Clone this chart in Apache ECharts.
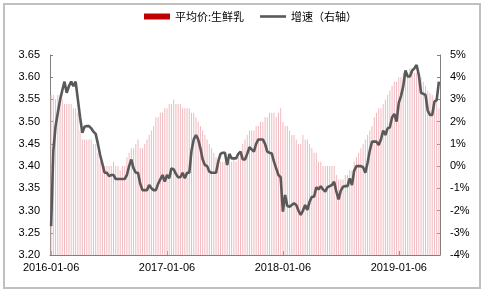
<!DOCTYPE html>
<html>
<head>
<meta charset="utf-8">
<script src="https://cdn.jsdelivr.net/npm/echarts@6/dist/echarts.min.js"></script>
<style>
html,body{margin:0;padding:0;background:#fff;}
#main{width:484px;height:294px;}
</style>
</head>
<body>
<div id="main"></div>
<script>
// Weekly categories starting 2016-01-06 (175 weeks)
var startDate = '2016-01-06';
var weekCount = 175;
var tickIndex = [0, 52, 104, 156];
var tickLabels = ['2016-01-06', '2017-01-06', '2018-01-06', '2019-01-06'];

// 平均价:生鲜乳 (元/公斤, left axis)
var priceValues = [
  3.56,3.56,3.55,3.56,3.56,3.55,3.54,3.54,3.54,3.54,
  3.53,3.53,3.52,3.48,3.46,3.46,3.46,3.46,3.46,3.45,
  3.45,3.43,3.41,3.40,3.40,3.40,3.40,3.40,3.41,3.40,
  3.40,3.39,3.40,3.40,3.42,3.43,3.44,3.44,3.45,3.46,
  3.44,3.44,3.45,3.46,3.47,3.48,3.49,3.51,3.51,3.52,
  3.52,3.53,3.53,3.54,3.54,3.55,3.54,3.54,3.54,3.53,
  3.53,3.53,3.53,3.52,3.52,3.51,3.50,3.49,3.48,3.47,
  3.46,3.45,3.44,3.43,3.42,3.42,3.41,3.41,3.41,3.41,
  3.41,3.41,3.42,3.41,3.42,3.43,3.45,3.46,3.47,3.48,
  3.48,3.48,3.49,3.49,3.50,3.50,3.51,3.51,3.52,3.52,
  3.52,3.51,3.52,3.53,3.50,3.49,3.49,3.48,3.47,3.47,
  3.46,3.45,3.45,3.47,3.46,3.46,3.45,3.44,3.43,3.43,
  3.41,3.41,3.40,3.40,3.40,3.40,3.40,3.40,3.38,3.37,
  3.37,3.37,3.38,3.38,3.39,3.39,3.41,3.42,3.43,3.44,
  3.45,3.46,3.47,3.48,3.49,3.51,3.52,3.53,3.53,3.54,
  3.55,3.56,3.57,3.58,3.59,3.59,3.60,3.60,3.61,3.61,
  3.61,3.62,3.62,3.61,3.61,3.61,3.60,3.59,3.58,3.57,
  3.565,3.56,3.55,3.55,3.53
];

// 增速 (%, right axis)
var growthValues = [
  -2.7,0.7,1.8,2.4,2.97,3.4,3.8,3.3,3.6,3.8,
  3.6,3.8,3.0,2.2,1.5,1.77,1.8,1.8,1.7,1.55,
  1.45,1.0,0.5,0.1,-0.3,-0.3,-0.45,-0.4,-0.4,-0.58,
  -0.58,-0.58,-0.58,-0.58,-0.4,0.0,0.3,-0.1,-0.3,-0.3,
  -0.8,-1.08,-1.08,-1.08,-0.85,-1.0,-1.08,-1.08,-0.8,-0.6,
  -0.4,-0.7,-0.4,-0.55,-0.1,-0.15,-0.35,-0.5,-0.5,-0.3,
  -0.55,-0.3,-0.3,0.7,1.2,1.4,1.2,0.8,0.3,0.05,
  0.0,-0.25,-0.3,-0.3,-0.3,0.2,0.55,0.6,0.6,0.05,
  0.55,0.35,0.35,0.35,0.55,0.65,0.3,0.3,0.55,0.85,
  0.75,0.65,1.0,1.2,1.2,1.2,1.0,0.65,0.6,0.57,
  0.2,-0.1,-0.4,-0.5,-2.05,-1.3,-1.8,-1.83,-1.75,-1.67,
  -1.75,-2.0,-2.2,-2.0,-1.75,-1.97,-1.6,-1.38,-1.38,-0.95,
  -1.05,-0.9,-1.05,-1.15,-0.95,-0.9,-0.85,-0.7,-1.15,-1.5,
  -1.1,-0.93,-0.9,-0.9,-0.55,-0.85,-0.2,0.0,0.0,0.0,
  -0.05,-0.3,0.15,0.7,1.1,1.1,1.1,0.95,1.2,1.6,
  1.4,1.7,1.75,2.2,2.35,2.0,2.85,3.15,3.6,4.3,
  4.03,4.03,4.3,4.4,4.55,4.1,3.3,3.25,3.2,2.5,
  2.3,2.3,2.9,2.97,3.8
];

var categories = [];
(function(){
  var d = new Date(startDate + 'T00:00:00Z');
  for (var i = 0; i < weekCount; i++) {
    var t = new Date(d.getTime() + i * 7 * 86400000);
    categories.push(t.toISOString().slice(0, 10));
  }
})();

var labelMap = {};
tickIndex.forEach(function(k, j){ labelMap[k] = tickLabels[j]; });

var chart = echarts.init(document.getElementById('main'), null, {renderer: 'canvas'});
var numFont = 'Liberation Sans, Arial, sans-serif';
chart.setOption({
  animation: false,
  backgroundColor: '#fff',
  graphic: [{
    type: 'rect',
    shape: {x: 4, y: 4, width: 476, height: 284},
    style: {fill: 'none', stroke: '#c0c0c0', lineWidth: 2},
    silent: true
  }],
  legend: {
    top: 6,
    left: 139,
    itemWidth: 26,
    itemHeight: 6,
    itemGap: 16,
    textStyle: {fontFamily: 'Noto Sans CJK SC', fontSize: 11, color: '#000'},
    data: [
      {name: '平均价:生鲜乳', icon: 'rect', itemStyle: {color: '#c00000'}},
      {name: '增速（右轴）', icon: 'path://M0,0L26,0L26,2.6L0,2.6Z', itemStyle: {color: '#595959'}}
    ]
  },
  grid: {left: 50, right: 44, top: 55, bottom: 39},
  xAxis: {
    type: 'category',
    data: categories,
    boundaryGap: true,
    axisLine: {onZero: false, lineStyle: {color: '#808080', width: 1}},
    axisTick: {
      show: true, inside: true, length: 4, alignWithLabel: true,
      interval: function(i){ return labelMap[i] !== undefined; },
      lineStyle: {color: '#808080'}
    },
    axisLabel: {
      interval: function(i){ return labelMap[i] !== undefined; },
      formatter: function(v, i){ return labelMap[i] || ''; },
      fontFamily: numFont, fontSize: 11, color: '#000', margin: 7
    },
    splitLine: {show: false}
  },
  yAxis: [{
    type: 'value',
    min: 3.2, max: 3.65, interval: 0.05,
    axisLine: {show: true, lineStyle: {color: '#808080'}},
    axisTick: {show: true, inside: true, length: 3, lineStyle: {color: '#808080'}},
    axisLabel: {
      formatter: function(v){ return v.toFixed(2); },
      fontFamily: numFont, fontSize: 11, color: '#000', margin: 10
    },
    splitLine: {show: false}
  }, {
    type: 'value',
    min: -4, max: 5, interval: 1,
    axisLine: {show: true, lineStyle: {color: '#808080'}},
    axisTick: {show: true, inside: true, length: 3, lineStyle: {color: '#808080'}},
    axisLabel: {
      formatter: '{value}%',
      fontFamily: numFont, fontSize: 11, color: '#000', margin: 10
    },
    splitLine: {show: false}
  }],
  series: [{
    name: '平均价:生鲜乳',
    type: 'bar',
    yAxisIndex: 0,
    data: priceValues,
    barWidth: 1,
    itemStyle: {color: '#f1b9bf'}
  }, {
    name: '增速（右轴）',
    type: 'line',
    yAxisIndex: 1,
    data: growthValues,
    symbol: 'none',
    lineStyle: {color: '#595959', width: 2.6},
    itemStyle: {color: '#595959'}
  }]
});
</script>
</body>
</html>
